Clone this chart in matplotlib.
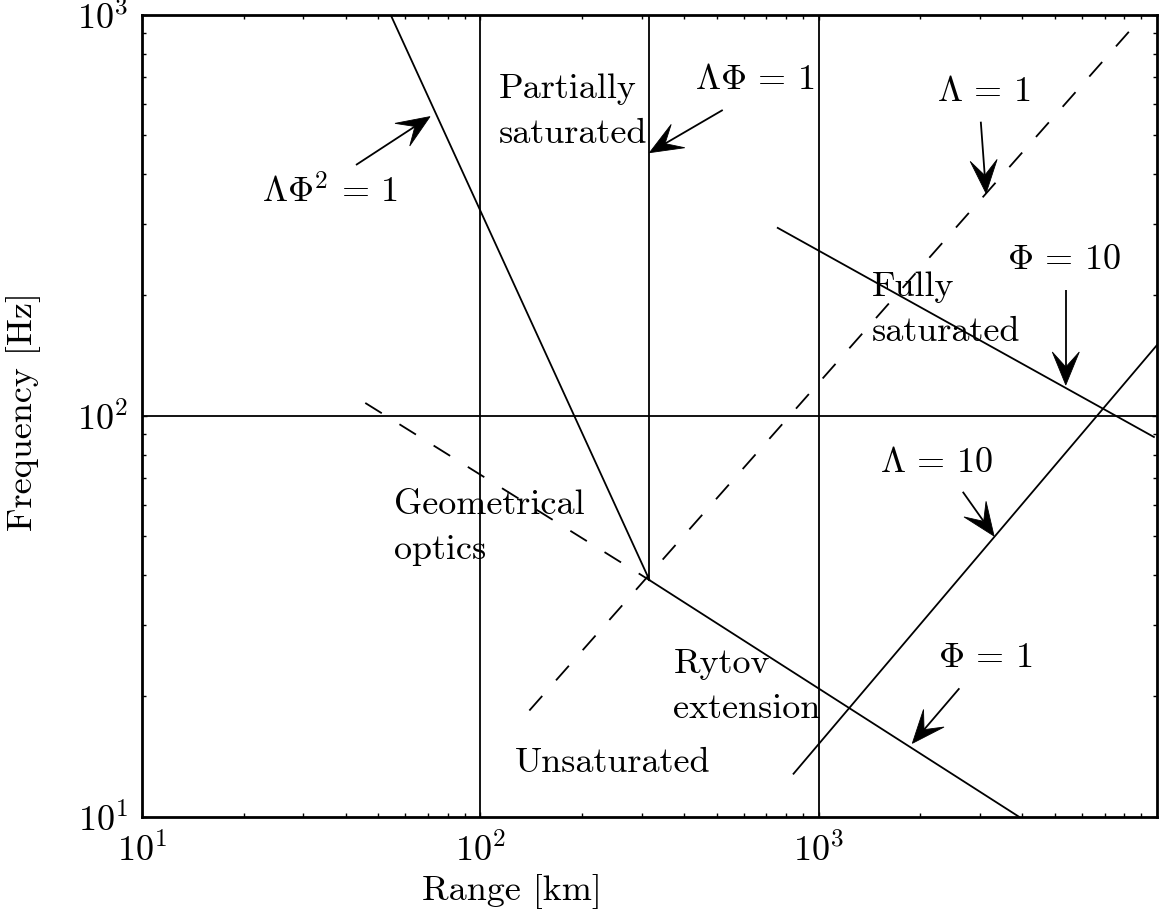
import matplotlib
matplotlib.use('Agg')
import matplotlib.pyplot as plt
from matplotlib.patches import Polygon
import numpy as np

plt.rcParams['font.family'] = 'cmr10'
plt.rcParams['mathtext.fontset'] = 'cm'
plt.rcParams['axes.unicode_minus'] = False
plt.rcParams['axes.formatter.use_mathtext'] = True
plt.rcParams['lines.scale_dashes'] = False

# regime boundaries: range R in km, frequency f in Hz
vertical_R = [100, 1000]          # full-height range boundaries
lphi_R = 316.2                    # Lambda*Phi = 1
lphi_f = [38.9, 1000]
horizontal_f = 100

lphi2_R = [54.3, 316.2]           # Lambda*Phi^2 = 1
lphi2_f = [1000, 38.9]

phi1_dash_R = [45.7, 316.2]       # Phi = 1 (dashed part)
phi1_dash_f = [107.6, 38.9]
phi1_R = [316.2, 3908]            # Phi = 1 (solid part)
phi1_f = [38.9, 10]

lam1_R = [139.6, 8913]            # Lambda = 1
lam1_f = [18.4, 975]

phi10_R = [757, 9795]             # Phi = 10
phi10_f = [294, 88.5]

lam10_R = [843, 10000]            # Lambda = 10
lam10_f = [12.8, 150]

FS = 26
LW = 1.3
DASH = (14, 15)


def arrow(ax, tail, tip, length=33, half_width=13.5, notch=18):
    """Line with a notched filled head, sized in pixels."""
    p0 = ax.transData.transform(tail)
    p1 = ax.transData.transform(tip)
    u = (p1 - p0) / np.hypot(*(p1 - p0))
    n = np.array([-u[1], u[0]])
    back = p1 - length * u
    inner = p1 - notch * u
    inv = ax.transData.inverted()
    shaft = inv.transform([p0, inner])
    ax.plot(shaft[:, 0], shaft[:, 1], color='k', lw=LW, solid_capstyle='butt')
    head = inv.transform([p1, back + half_width * n, inner, back - half_width * n])
    ax.add_patch(Polygon(head, closed=True, fc='k', ec='k', lw=0.6))


fig = plt.figure(figsize=(11.65, 9.19), dpi=100)
ax = fig.add_axes([0.1219, 0.1113, 0.8712, 0.8727])
ax.set_xscale('log')
ax.set_yscale('log')
ax.set_xlim(10, 1e4)
ax.set_ylim(10, 1e3)

for R in vertical_R:
    ax.axvline(R, color='k', lw=LW)
ax.plot([lphi_R, lphi_R], lphi_f, color='k', lw=LW)
ax.axhline(horizontal_f, color='k', lw=LW)
ax.plot(lphi2_R, lphi2_f, color='k', lw=LW)
ax.plot(phi1_dash_R, phi1_dash_f, color='k', lw=LW, dashes=DASH)
ax.plot(phi1_R, phi1_f, color='k', lw=LW)
ax.plot(lam1_R, lam1_f, color='k', lw=LW, dashes=DASH)
ax.plot(phi10_R, phi10_f, color='k', lw=LW)
ax.plot(lam10_R, lam10_f, color='k', lw=LW)

# labels (multi-line ones are placed by the baseline of their last line)
kw = dict(fontsize=FS, ha='left', va='baseline')
ax.text(22.6, 339, r'$\Lambda\Phi^2 \,=\, 1$', **kw)
ax.text(113.0, 478.6, 'Partially\nsaturated', linespacing=1.55, **kw)
ax.text(431, 653, r'$\Lambda\Phi \,=\, 1$', **kw)
ax.text(2239, 610, r'$\Lambda \,=\, 1$', **kw)
ax.text(3600, 232, r'$\Phi \,=\, 10$', **kw)
ax.text(1436, 153.8, 'Fully\nsaturated', linespacing=1.55, **kw)
ax.text(1519, 72.5, r'$\Lambda \,=\, 10$', **kw)
ax.text(2250, 23.6, r'$\Phi \,=\, 1$', **kw)
ax.text(55.6, 43.9, 'Geometrical\noptics', linespacing=1.55, **kw)
ax.text(372, 17.6, 'Rytov\nextension', linespacing=1.55, **kw)
ax.text(126.6, 12.95, 'Unsaturated', **kw)

arrow(ax, (42.9, 422), (71.0, 557))
arrow(ax, (520.6, 578.6), (316.2, 452.8))
arrow(ax, (3015, 541), (3125, 358.6))
arrow(ax, (5377, 205.8), (5377, 119.3))
arrow(ax, (2667, 64.6), (3300, 50.1))
arrow(ax, (2606, 20.9), (1892, 15.24))

ax.set_xticks([10, 100, 1000])
ax.tick_params(which='both', direction='in', top=True, right=True, width=1.0)
ax.tick_params(which='major', length=3.5, labelsize=FS)
ax.tick_params(axis='x', which='major', pad=11)
ax.tick_params(axis='y', which='major', pad=10)
ax.tick_params(which='minor', length=3)
for sp in ax.spines.values():
    sp.set_linewidth(2)

ax.set_xlabel('Range [km]', fontsize=FS)
ax.set_ylabel('Frequency [Hz]', fontsize=FS)
ax.xaxis.set_label_coords(0.3645, -0.072)
ax.yaxis.set_label_coords(-0.10, 0.505)

fig.savefig('out.png', dpi=100)
